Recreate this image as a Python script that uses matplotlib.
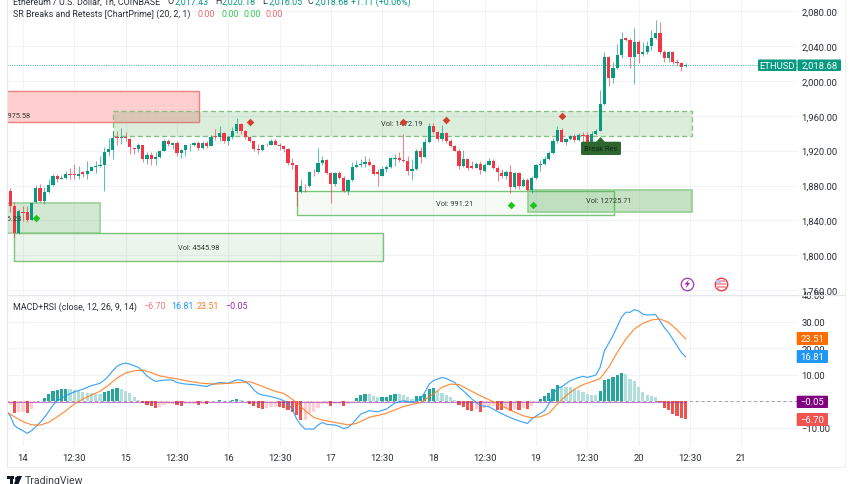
import numpy as np
import matplotlib
matplotlib.use("Agg")
import matplotlib.pyplot as plt
from matplotlib.patches import Rectangle, Polygon, FancyBboxPatch

plt.rcParams['font.family'] = ['Roboto', 'DejaVu Sans']

first_hour = -3
opens = [1874,1856,1826,1850,1850,1840,1861,1877,1862,1873,1881,1891,1888,1889,1893,1893,1891,1895,1893,1897,1901,1902,1903,1918,1921,1936,1935,1936,1933,1923,1922,1926,1910,1915,1910,1913,1919,1931,1927,
 1929,1917,1921,1926,1927,1929,1923,1929,1925,1937,1936,1940,1931,1936,1943,1950,1943,1936,1931,1922,1921,1927,1926,1931,1927,1925,1922,1906,1904,1873,1880,1879,1896,1895,1906,1909,1894,1882,
 1894,1889,1874,1886,1901,1903,1905,1907,1903,1896,1891,1899,1901,1910,1911,1909,1908,1897,1899,1919,1913,1930,1948,1941,1933,1940,1931,1925,1920,1902,1910,1902,1900,1905,1897,1904,1908,1900,
 1894,1891,1895,1878,1894,1879,1886,1875,1889,1903,1905,1910,1917,1931,1944,1930,1933,1937,1932,1938,1938,1930,1939,
 1943,1973,2027,2003,2015,2030,2049,2047,2027,2045,2031,2033,2040,2049,2055,2033,2026,2033,2021,2020,2017]
highs = [1877,1861,1853,1857,1857,1861,1881,1882,1878,1888,1893,1893,1892,1897,1900,1905,1902,1897,1908,1902,1908,1914,1924,1935,1943,1942,1946,1941,1935,1924,1929,1926,1918,1918,1918,1921,1933,1933,1930,
 1931,1922,1926,1929,1930,1931,1931,1931,1938,1945,1948,1941,1937,1947,1957,1952,1944,1937,1931,1928,1928,1929,1933,1933,1929,1927,1923,1912,1904,1888,1882,1897,1899,1923,1914,1910,1896,1895,
 1897,1891,1888,1907,1909,1910,1914,1912,1904,1899,1902,1903,1913,1916,1918,1939,1914,1910,1922,1924,1935,1952,1952,1943,1949,1941,1933,1926,1922,1921,1910,1908,1907,1908,1906,1911,1910,1902,
 1899,1898,1903,1896,1896,1889,1889,1891,1905,1909,1914,1919,1935,1948,1946,1935,1938,1939,1940,1941,1941,1942,1945,
 1989,2033,2029,2021,2042,2056,2050,2049,2061,2047,2045,2046,2058,2070,2067,2035,2034,2034,2025,2021,2020]
lows = [1850,1821,1825,1839,1838,1840,1860,1861,1859,1871,1880,1884,1887,1888,1888,1887,1888,1890,1888,1897,1894,1901,1874,1914,1910,1926,1928,1931,1916,1916,1918,1907,1905,1904,1904,1912,1919,1925,1922,
 1914,1911,1914,1919,1925,1921,1922,1923,1925,1932,1931,1929,1927,1933,1940,1939,1933,1930,1920,1916,1920,1925,1926,1926,1921,1918,1903,1899,1857,1872,1873,1878,1891,1894,1903,1893,1860,1880,
 1887,1873,1869,1885,1900,1901,1901,1902,1892,1879,1891,1896,1900,1902,1907,1907,1892,1886,1898,1906,1912,1929,1940,1931,1931,1929,1924,1919,1899,1901,1898,1899,1900,1893,1896,1903,1899,1885,
 1889,1888,1871,1876,1876,1878,1874,1871,1888,1897,1904,1909,1916,1929,1930,1927,1932,1930,1931,1930,1928,1929,1938,
 1942,1972,1994,1997,2014,2026,2046,2015,1996,2020,2029,2031,2035,2048,2031,2021,2021,2019,2018,2011,2016]
closes = [1857,1826,1851,1848,1840,1860,1877,1862,1873,1881,1891,1888,1889,1893,1892,1892,1893,1893,1897,1901,1902,1903,1918,1922,1935,1934,1936,1935,1924,1922,1926,1910,1915,1910,1913,1919,1931,1928,1929,
 1917,1921,1926,1927,1929,1923,1929,1925,1936,1936,1940,1931,1936,1943,1950,1943,1936,1931,1922,1921,1927,1926,1931,1927,1925,1922,1906,1904,1873,1880,1879,1896,1895,1906,1909,1894,1882,1894,
 1889,1874,1886,1901,1903,1905,1907,1903,1893,1893,1899,1901,1911,1911,1909,1908,1897,1899,1919,1913,1930,1948,1941,1933,1940,1931,1925,1920,1902,1910,1900,1900,1905,1898,1904,1908,1900,1895,
 1891,1895,1878,1894,1879,1886,1875,1889,1904,1905,1910,1917,1931,1944,1930,1933,1937,1932,1938,1937,1930,1939,1943,
 1973,2027,2003,2015,2030,2048,2047,2027,2045,2031,2033,2040,2049,2055,2033,2026,2033,2021,2020,2016,2018.68]

histogram = [-1.3,-4.4,-4.1,-4.1,-4.2,-2.8,-0.5,0.1,1.3,2.8,3.8,4.3,4.5,4.6,4.5,4.1,3.8,3.5,3.1,3.0,2.8,2.7,3.4,3.8,4.6,5.0,4.6,4.0,3.0,1.6,0.6,
 -0.5,-1.3,-1.9,-2.5,-2.0,-1.3,-0.9,-0.8,-1.5,-1.8,-1.1,-1.0,-0.9,-1.3,-0.9,-1.0,-0.4,0.1,0.4,0.1,0.1,0.4,1.0,0.5,0.1,-0.8,-1.8,-2.5,-2.8,-2.5,-2.0,-2.0,-2.1,-2.3,-3.1,-3.8,-5.0,
 -6.9,-6.9,-4.4,-4.1,-2.5,-1.0,-0.9,-1.6,-1.0,-1.0,-1.6,-0.9,-0.1,1.3,2.5,2.9,2.85,1.9,1.5,1.6,1.8,2.3,2.8,2.6,2.3,1.5,0.8,1.9,1.95,2.8,4.6,5.0,4.0,3.1,2.3,1.5,0.4,
 -1.3,-2.1,-3.1,-3.5,-2.8,-3.8,-2.5,-1.9,-1.9,-3.1,-3.15,-2.5,-3.5,-2.8,-3.1,-2.5,-2.9,-1.9,-0.1,
 0.9,2.1,3.1,4.6,6.3,5.5,5.4,5.3,4.6,4.1,3.5,2.8,2.5,2.3,3.9,7.9,8.5,9.0,9.8,10.8,10.4,8.4,7.5,5.6,3.5,2.5,2.1,1.8,-0.4,-2.3,-3.3,-4.6,-5.6,-6.3,-6.7]

macd_hours = [-3.7,-3,-2,-1,0,1,2,3,4,5,6,7,8,10,12,14,16,18,19,20,21,22,23,24,25,26,27,28,29,30,31,32,34,35,36,38,40,43,44,46,48,49,50,51,52,53,54,55,56,58,60,61,62,63,64,65,66,68,69,70,71,73,74,75,76,77,78,79,81,83,85,87,89,91,93,94,95,96,98,99,101,102,103,105,107,109,111,113,114,116,118,119,121,122,123,124,125,126,128,130,131,132,134,135,136,138,140,141,142,143,144,145,146,148,149,150,151,152,153,154,155]
macd_line = [-4.1,-5.4,-9.1,-10.2,-11.0,-12.0,-11.0,-9.5,-7.9,-6.0,-3.8,-1.4,0.25,2.1,3.6,4.6,5.9,6.8,8.0,9.6,11.5,13.2,14.0,14.4,14.0,13.4,12.8,11.3,9.6,8.4,7.5,7.8,8.1,8.0,7.1,6.5,6.3,5.6,6.3,7.1,6.8,7.5,8.1,8.0,7.4,6.3,4.3,3.0,2.4,1.8,0.9,0.25,-0.9,-2.9,-6.6,-8.9,-10.4,-10.4,-8.9,-7.9,-8.6,-8.9,-9.4,-10.2,-9.8,-8.5,-6.6,-4.8,-3.5,-3.9,-2.9,-0.6,0.25,-0.4,0.9,3.4,6.5,7.8,9.0,8.6,7.1,5.3,4.0,0.9,-1.6,-2.0,-3.8,-5.4,-6.1,-7.3,-8.3,-6.6,-4.5,-3.5,-1.0,2.8,4.9,5.5,7.8,9.0,9.4,9.0,9.9,12.8,19.0,24.7,31.6,33.5,33.5,34.5,34.0,32.8,32.5,32.6,30.3,27.8,25.9,23.4,20.9,18.4,16.81]

signal_hours = [-3.7,-2,0,2,4,6,8,10,12,14,16,18,20,22,24,26,28,30,32,34,36,39,42,45,48,51,53,55,57,59,61,62,64,66,68,70,73,76,78,81,85,89,93,96,98,100,102,104,107,110,114,117,119,121,123,125,127,129,131,133,135,137,139,141,143,145,147,149,151,153,155]
signal_line = [-4.1,-5.8,-7.6,-8.8,-8.9,-7.9,-5.8,-3.5,-1.0,0.9,2.4,3.8,6.1,8.8,10.7,11.5,11.8,10.8,9.6,9.0,8.5,7.5,6.8,6.5,6.8,7.1,7.4,6.3,5.0,3.8,3.0,1.9,-0.4,-3.5,-6.0,-7.0,-7.9,-8.8,-8.3,-6.0,-4.5,-1.9,-0.4,2.8,5.3,6.5,6.3,4.6,2.1,-0.1,-3.3,-5.4,-6.1,-5.8,-4.5,-1.0,2.1,4.6,6.3,7.4,8.6,12.8,18.4,23.4,27.2,29.3,30.6,31.0,29.7,26.9,23.51]

price_ticks = [1760,1800,1840,1880,1920,1960,2000,2040,2080]
price_labels = ['1,760.00','1,800.00','1,840.00','1,880.00','1,920.00','1,960.00','2,000.00','2,040.00','2,080.00']
macd_ticks = [-10,10,20,30,40]
macd_labels = ['−10.00','10.00','20.00','30.00','40.00']
day_ticks = [0,12,24,36,48,60,72,84,96,108,120,132,144,156,168]
day_labels = ['14','12:30','15','12:30','16','12:30','17','12:30','18','12:30','19','12:30','20','12:30','21']

# zones: left hour, right hour, top price, bottom price
red_zone = (-5, 41.1, 1988, 1952.4)
res_zone = (21, 156.4, 1965.7, 1936.4)
sup_a = (-5, 18, 1859.6, 1825.6)
sup_b = (-2, 84.2, 1825.2, 1793.5)
sup_c = (64.1, 138.2, 1873.7, 1845.9)
sup_d = (118.2, 156.4, 1875, 1850)
red_diamonds_t = [53, 89, 99, 126]
red_diamonds_p = [1953.1, 1952.4, 1954.7, 1959.7]
green_diamonds_t = [3, 114.2, 119.2]
green_diamonds_p = [1843.1, 1858, 1858]

UP, DOWN = '#089981', '#f23645'
W, H = 852, 485
fig = plt.figure(figsize=(W/100, H/100), dpi=100, facecolor='white')

def axpx(x0, y0, x1, y1, **kw):
    return fig.add_axes([x0/W, 1-y1/H, (x1-x0)/W, (y1-y0)/H], **kw)

to_hour = lambda px: (px-23)/4.275
xlim = (to_hour(7), to_hour(798))
GRID = '#f1f3f7'
TICK = '#2a2e39'
FS = 6.8
LFS = 6.4

ax = axpx(7, 0, 798, 295)
ax.set_xlim(xlim)
ax.set_ylim(2080-283*1.146, 2080+12*1.146)
mx = axpx(7, 296, 798, 447)
mx.set_xlim(xlim)
mx.set_ylim((402.4-447)/2.66, (402.4-296)/2.66)

for a in (ax, mx):
    for s in a.spines.values():
        s.set_visible(False)
    a.set_axisbelow(True)
    a.grid(True, color=GRID, lw=0.8)
    a.set_xticks(day_ticks)
    a.yaxis.tick_right()
ax.set_yticks(price_ticks)
ax.set_yticklabels(price_labels)
ax.tick_params(axis='y', length=0, pad=2.6, labelsize=FS, labelcolor=TICK)
ax.tick_params(axis='x', length=0, labelbottom=False)
mx.set_yticks([0]+macd_ticks)
mx.set_yticklabels(['']+macd_labels)
mx.tick_params(axis='y', length=0, pad=2.6, labelsize=FS, labelcolor=TICK)
mx.set_xticklabels(day_labels)
mx.tick_params(axis='x', length=0, pad=5, labelsize=FS, labelcolor=TICK)

def zone(z, face, edge, ls='-', lw=0.9):
    l, r, t, b = z
    ax.add_patch(Rectangle((l, b), r-l, t-b, facecolor=face, edgecolor=edge, lw=lw, ls=ls, zorder=1.5))

zone(red_zone, '#ffcfcf', '#f57f7f', lw=1.0)
zone(res_zone, (0.30, 0.65, 0.30, 0.20), '#7fc07f', ls=(0, (4, 2.5)))
zone(sup_a, (0.30, 0.65, 0.30, 0.25), '#a5d6a5', lw=1.4)
zone(sup_b, (0.30, 0.65, 0.30, 0.11), '#7cc47c', lw=1.0)
zone(sup_c, (0.30, 0.65, 0.30, 0.05), '#7cc47c', lw=1.0)
zone(sup_d, (0.30, 0.65, 0.30, 0.32), '#93cf93', lw=1.2)

hours = np.arange(len(opens)) + first_hour
o, h, l, c = map(np.array, (opens, highs, lows, closes))
cols = np.where(c >= o, UP, DOWN)
ax.vlines(hours, l, h, colors=cols, lw=0.75, alpha=0.62, zorder=2)
ax.bar(hours, np.maximum(np.abs(c-o), 0.8), bottom=np.minimum(o, c), width=0.76, color=cols, lw=0, zorder=2.2)

ax.axhline(closes[-1], color='#089981', lw=0.75, alpha=0.7, ls=(0, (1, 1.2)), zorder=1.8)

ax.scatter(red_diamonds_t, red_diamonds_p, marker='D', s=15, color='#d0402c', lw=0, zorder=3)
ax.scatter(green_diamonds_t, green_diamonds_p, marker='D', s=15, color='#1fc31f', lw=0, zorder=3)

def vol(t, p, s, ha='center'):
    ax.text(t, p, s, fontsize=5.3, color='#2f3a2f', ha=ha, va='center', zorder=2.6, clip_on=True)
vol(to_hour(30), 1960, 'Vol: 1975.58', ha='right')
vol(to_hour(402), 1951.5, 'Vol: 1472.19')
vol(to_hour(21), 1842, 'Vol: 1576.23', ha='right')
vol(to_hour(199), 1809, 'Vol: 4545.98')
vol(to_hour(455), 1859, 'Vol: 991.21')
vol(to_hour(609), 1863, 'Vol: 12725.71')

# MACD pane
mx.axhline(0, color='#9aa0a6', lw=0.7, ls=(0, (3, 3)), zorder=1)
hv = np.array(histogram)
prev = np.r_[hv[0], hv[:-1]]
hcol = []
for v, p in zip(hv, prev):
    if v >= 0:
        hcol.append('#26a69a' if v > p else '#b2dfdb')
    else:
        hcol.append('#ef5350' if v < p else '#ffcdd2')
mx.bar(hours, hv, width=0.76, color=hcol, lw=0, zorder=2)
mx.plot([hours[0]-1, hours[-1]], [-0.05, -0.05], color='#9c27b0', lw=0.7, alpha=0.6, zorder=2.5)
mx.plot(macd_hours, macd_line, color='#2196f3', lw=0.85, alpha=0.85, zorder=3)
mx.plot(signal_hours, signal_line, color='#ff7a1a', lw=0.85, alpha=0.85, zorder=3.1)

# overlay with pixel coordinates
ov = fig.add_axes([0, 0, 1, 1], zorder=10)
ov.set_xlim(0, W); ov.set_ylim(H, 0); ov.axis('off'); ov.patch.set_alpha(0)
LINE = '#e6e8ec'
ov.plot([7, 7], [0, 468], color=LINE, lw=0.8)
ov.plot([7, 845], [295.5, 295.5], color=LINE, lw=1.0)
ov.plot([7, 845], [468, 468], color='#eef0f3', lw=0.8)
ov.plot([845, 845], [0, 468], color='#f1f2f5', lw=0.8)

def t(x, y, s, color=TICK, fs=LFS, **kw):
    ov.text(x, y, s, color=color, fontsize=fs, va='center', ha=kw.pop('ha', 'left'), **kw)

G = '#089981'
t(13, 2, 'Ethereum / U.S. Dollar, 1h, COINBASE')
for x, lab, val in [(168, 'O', '2,017.43'), (215, 'H', '2,020.18'), (262, 'L', '2,016.05'), (308, 'C', '2,018.68')]:
    t(x, 2, lab)
    t(x+7, 2, val, color=G)
t(351, 2, '+1.11 (+0.06%)', color=G)
t(13, 14.7, 'SR Breaks and Retests [ChartPrime] (20, 2, 1)')
for x, col in [(198, '#f66a6a'), (221, '#33cc55'), (243, '#33cc55'), (266, '#f66a6a')]:
    t(x, 14.7, '0.00', color=col)
t(13, 307, 'MACD+RSI (close, 12, 26, 9, 14)')
for x, s, col in [(143, '−6.70', '#f77c7c'), (171, '16.81', '#2196f3'), (197, '23.51', '#ff7a1a'), (225, '−0.05', '#9c27b0')]:
    t(x, 307, s, color=col)

def tag(x0, x1, y0, y1, s, col, tx=None):
    ov.add_patch(FancyBboxPatch((x0, y0), x1-x0, y1-y0, boxstyle='round,pad=0,rounding_size=1', fc=col, ec='none', zorder=5))
    ov.text((x0+x1)/2, (y0+y1)/2, s, color='white', fontsize=FS, ha='center', va='center', zorder=6)

tag(758, 796.5, 60.5, 72, 'ETHUSD', '#089981')
tag(797.5, 841, 60.5, 72, '2,018.68', '#089981')
tag(796.7, 828, 333, 346, '23.51', '#ff6d00')
tag(796.7, 828, 351, 364, '16.81', '#2196f3')
tag(796.7, 828, 396.7, 409, '−0.05', '#800080')
tag(796.7, 828, 414, 427, '−6.70', '#f05350')

# Break Res label
ov.add_patch(FancyBboxPatch((581, 142.7), 40, 13.3, boxstyle='round,pad=0,rounding_size=1.5', fc='#2f6630', ec='none', zorder=5))
ov.add_patch(Polygon([[596, 143], [600.5, 138], [605, 143]], fc='#2f6630', ec='none', zorder=5))
ov.text(601, 149.3, 'Break Res', color='#0f2a10', fontsize=5.4, ha='center', va='center', zorder=6)

# icons
ov.scatter([687], [285], s=80, fc='white', ec='#ab47bc', lw=1.0, zorder=5)
ov.add_patch(Polygon([[689, 280.5], [684.5, 285.5], [687, 285.5], [685.5, 289.5], [690, 284], [687.5, 284]], fc='#9c27b0', ec='none', zorder=6))
ov.scatter([721], [285], s=80, fc='white', ec='#f23645', lw=1.0, zorder=5)
ov.add_patch(Rectangle((716, 281), 10, 8, fc='#f7a0a8', ec='none', zorder=6))
ov.add_patch(Rectangle((716, 283), 10, 1.2, fc='white', ec='none', zorder=6))
ov.add_patch(Rectangle((716, 286), 10, 1.2, fc='white', ec='none', zorder=6))
ov.add_patch(Rectangle((716, 281), 4.5, 3, fc='#c0c4e8', ec='none', zorder=6))

# TradingView logo
K = '#131722'
ov.add_patch(Rectangle((7, 477), 7, 2.8, fc=K, ec='none'))
ov.add_patch(Rectangle((10, 477), 3.4, 8, fc=K, ec='none'))
ov.scatter([15.8], [478.6], s=5, color=K, lw=0)
ov.add_patch(Polygon([[17, 477], [22, 477], [18.5, 485], [14, 485]], fc=K, ec='none'))
t(25, 481, 'TradingView', color='#3c3f47', fs=7.6)

fig.savefig('out.png', dpi=100)
